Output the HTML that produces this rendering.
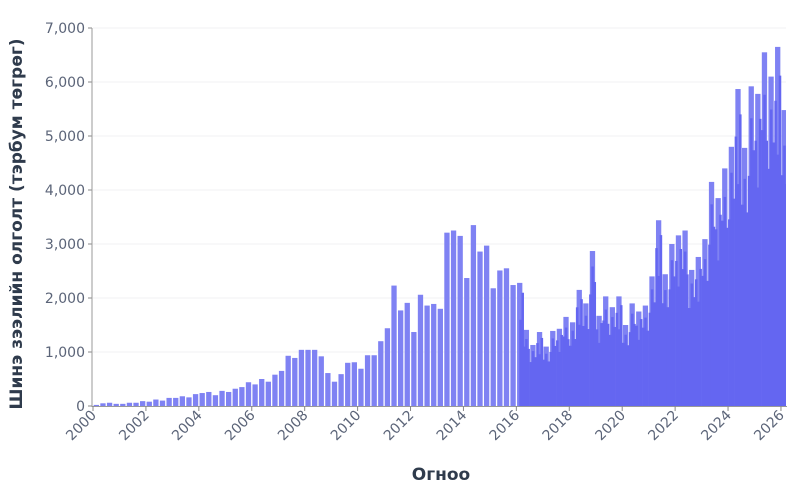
<!DOCTYPE html>
<html><head><meta charset="utf-8"><style>
body{margin:0;background:#fff;}
svg{display:block;font-family:"DejaVu Sans","Liberation Sans",sans-serif;}
</style></head><body>
<svg id="s" width="800" height="500" viewBox="0 0 800 500" xmlns="http://www.w3.org/2000/svg">
<defs><clipPath id="c"><rect x="92" y="0" width="694" height="407"/></clipPath></defs>
<g id="grid"></g><g id="bars" clip-path="url(#c)"></g><g id="ax"></g>
<text x="441" y="480" text-anchor="middle" font-size="17" font-weight="bold" fill="#2f3b4c">Огноо</text>
<text transform="translate(22,224) rotate(-90)" text-anchor="middle" font-size="17" font-weight="bold" fill="#2f3b4c">Шинэ зээлийн олголт (тэрбум төгрөг)</text>
</svg>
<script>
var NS="http://www.w3.org/2000/svg";
function el(p,t,a,txt){var e=document.createElementNS(NS,t);for(var k in a)e.setAttribute(k,a[k]);if(txt)e.textContent=txt;document.getElementById(p).appendChild(e);return e;}
var y0=406,ppk=54,x0=93,q=6.615;
for(var v=0;v<=7;v++){var y=y0-v*ppk;
 if(v>0)el("grid","line",{x1:93,x2:786,y1:y,y2:y,stroke:"#f0f0f3","stroke-width":1});
 el("ax","line",{x1:88,x2:92,y1:y,y2:y,stroke:"#888"});
 el("ax","text",{x:85,y:y+5,"text-anchor":"end","font-size":"14",fill:"#5b6478"},v==0?"0":v+",000");}
var Q=[0.02,0.05,0.06,0.04,0.04,0.06,0.06,0.09,0.08,0.12,0.1,0.15,0.15,0.18,0.16,0.22,0.24,0.26,0.2,0.28,0.26,0.32,0.35,0.44,0.4,0.5,0.45,0.58,0.65,0.93,0.89,1.04,1.04,1.04,0.92,0.61,0.45,
0.59,0.8,0.81,0.69,0.94,0.94,1.2,1.44,2.23,1.77,1.91,1.37,2.06,1.86,1.89,1.8,3.21,3.25,3.15,2.37,3.35,2.86,2.97,2.18,2.51,2.55,2.24,2.28,
1.41,1.13,1.37,1.1,1.39,1.43,1.65,1.55,2.15,1.9,2.87,1.67,2.03,1.83,2.03,1.5,1.9,1.75,1.86,2.4,
3.44,2.44,3.0,3.16,3.25,2.52,2.76,3.09,4.15,3.85,4.4,4.8,5.87,4.78,5.92,5.78,6.55,6.1,6.65,5.48];
for(var i=0;i<Q.length;i++){var h=Q[i]*ppk;
 el("bars","rect",{x:x0+i*q+0.7,y:y0-h,width:5.3,height:h,fill:"#7f82f3"});}
var f=[0.72,0.9,0.8,0.85,0.7,0.92,0.78,0.88,0.75];
for(var i=64;i<Q.length;i++){for(var m=0;m<3;m++){var k=(i*3+m)%9;var val=Q[i]*f[k];var h=val*ppk;
 var x=x0+i*q+m*q/3+(i==64?0.7:0);
 if(i==64&&m<1)continue;
 el("bars","rect",{x:x,y:y0-h,width:q/3+0.3,height:h,fill:"#6466f1"});}}
el("ax","line",{x1:92,x2:92,y1:28,y2:407,stroke:"#999"});
el("ax","line",{x1:92,x2:787,y1:406.5,y2:406.5,stroke:"#999"});
for(var yr=2000;yr<=2026;yr+=2){var x=x0+(yr-2000)*26.46;
 el("ax","line",{x1:x,x2:x,y1:406,y2:411,stroke:"#888"});
 el("ax","text",{transform:"translate("+(x+4)+",416) rotate(-45)","text-anchor":"end","font-size":"14",fill:"#5b6478"},""+yr);}
</script>
</body></html>
